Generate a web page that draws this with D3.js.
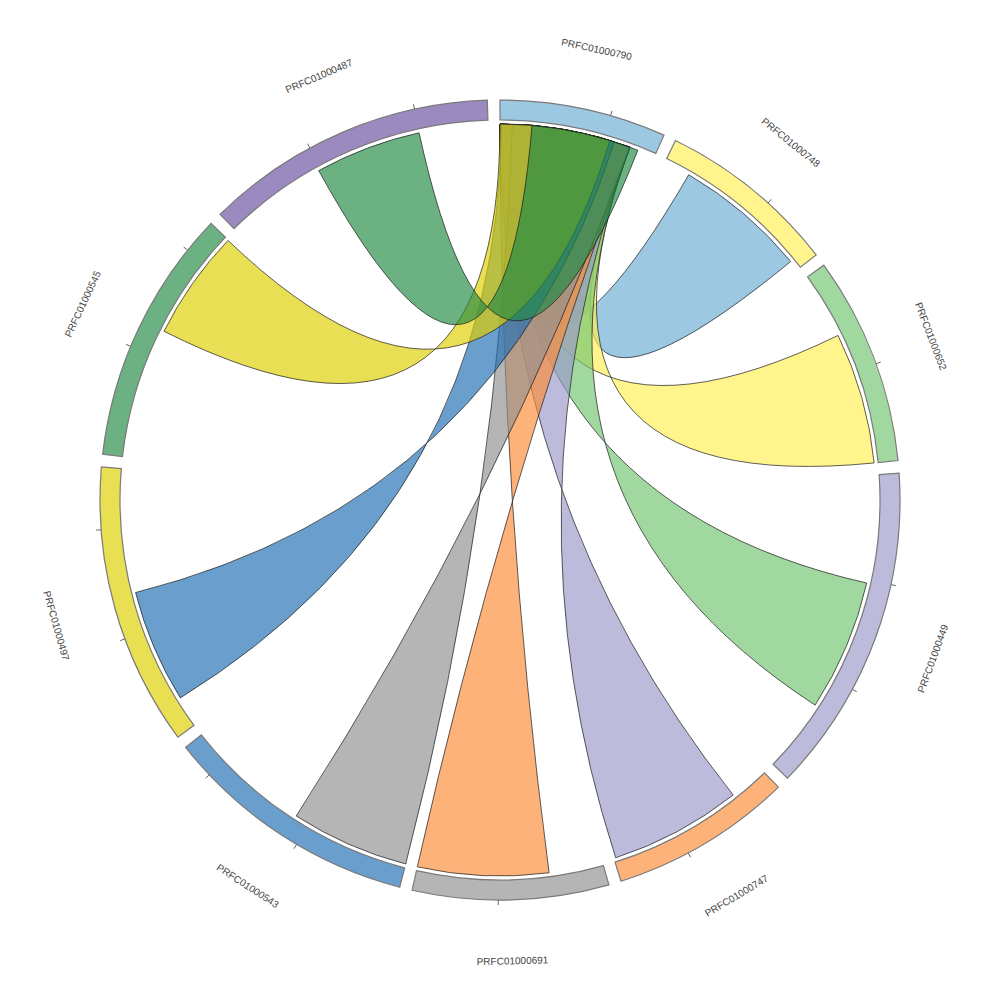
<!DOCTYPE html>
<html><head><meta charset="utf-8">
<script src="https://cdn.jsdelivr.net/npm/d3@7"></script>
<style>body{margin:0;background:#fff}svg{display:block}</style>
</head><body>
<svg id="chart" width="1000" height="1000"></svg>
<script>
// ---- data ----
const groupNames = ["PRFC01000790","PRFC01000748","PRFC01000652","PRFC01000449","PRFC01000747","PRFC01000691","PRFC01000543","PRFC01000497","PRFC01000545","PRFC01000487"];
const groupValues = [1508,1633,1888,2985,1651,1776,2324,2561,2318,2655];
const groupColors = ["#9dc8e2","#fff58c","#a1d8a0","#bcbbdc","#fdb27a","#b5b5b5","#6a9ecc","#e9df52","#6bb182","#9b8ac0"];
const tickStep = 1000;

const hubName = "PRFC01000790";
const linkGroups = ["PRFC01000748","PRFC01000652","PRFC01000449","PRFC01000747","PRFC01000691","PRFC01000543","PRFC01000497","PRFC01000545","PRFC01000487"];
// position of each link inside its own group (value units)
const linkGroupOffsets = [256,623,1034,361,517,0,287,1253,972];
const linkGroupValues  = [1278,1265,1265,1271,1259,1140,1091,1059,1022];
// position of each link inside the hub group (value units)
const linkHubOffsets = [0,0,0,0,0,118,12,0,305];
const linkHubValues  = [1262,1259,1259,1259,1259,1140,1091,1059,1035];
const linkColors = ["#9dc8e2","#fff58c","#a1d8a0","#bcbbdc","#fdb27a","#b5b5b5","#6a9ecc","#e9df52","#6bb182"];

// ---- layout ----
const cx = 500, cy = 500;
const outerR = 400, innerR = 380, ribbonR = 376, labelR = 461;
const pad = 1.82 * Math.PI / 180;
const ribbonAlpha = 0.67;
const total = d3.sum(groupValues);
const angle = d3.scaleLinear().domain([0, total]).range([0, 2 * Math.PI - pad * groupValues.length]);

let cum = 0;
const groups = groupNames.map((name, i) => {
  const s = angle(cum) + i * pad;
  cum += groupValues[i];
  const e = angle(cum) + i * pad;
  return {name, index: i, startAngle: s, endAngle: e, value: groupValues[i]};
});
const byName = new Map(groups.map(g => [g.name, g]));
const hub = byName.get(hubName);

const links = linkGroups.map((n, i) => {
  const g = byName.get(n);
  return {
    g0: g.startAngle + angle(linkGroupOffsets[i]),
    g1: g.startAngle + angle(linkGroupOffsets[i] + linkGroupValues[i]),
    h0: hub.startAngle + angle(linkHubOffsets[i]),
    h1: hub.startAngle + angle(linkHubOffsets[i] + linkHubValues[i]),
    color: linkColors[i]
  };
});

// ribbon whose edges join g0-h0 and g1-h1
function ribbonPath(d) {
  const p = d3.path(), r = ribbonR, h = Math.PI / 2;
  p.moveTo(r * Math.cos(d.g0 - h), r * Math.sin(d.g0 - h));
  p.arc(0, 0, r, d.g0 - h, d.g1 - h, false);
  p.quadraticCurveTo(0, 0, r * Math.cos(d.h1 - h), r * Math.sin(d.h1 - h));
  p.arc(0, 0, r, d.h1 - h, d.h0 - h, true);
  p.quadraticCurveTo(0, 0, r * Math.cos(d.g0 - h), r * Math.sin(d.g0 - h));
  p.closePath();
  return p.toString();
}
// fill colour that shows as the given colour at ribbonAlpha over white
function baseColor(c) {
  const q = d3.rgb(c), a = ribbonAlpha, f = v => Math.max(0, Math.min(255, (v - (1 - a) * 255) / a));
  return d3.rgb(f(q.r), f(q.g), f(q.b)).formatHex();
}

const svg = d3.select("#chart");
const root = svg.append("g").attr("transform", `translate(${cx},${cy})`);

root.append("g").selectAll("path").data(links).join("path")
  .attr("d", ribbonPath)
  .attr("fill", d => baseColor(d.color))
  .attr("fill-opacity", ribbonAlpha)
  .attr("stroke", "#1a1a1a")
  .attr("stroke-width", 0.7);

const arc = d3.arc().innerRadius(innerR).outerRadius(outerR);
root.append("g").selectAll("path").data(groups).join("path")
  .attr("d", arc)
  .attr("fill", (d, i) => groupColors[i])
  .attr("stroke", "#7a7a7a")
  .attr("stroke-width", 1.2);

// ticks
const ticks = [];
groups.forEach(g => {
  for (let v = tickStep; v < g.value; v += tickStep) ticks.push(g.startAngle + angle(v));
});
root.append("g").selectAll("line").data(ticks).join("line")
  .attr("x1", a => outerR * Math.sin(a)).attr("y1", a => -outerR * Math.cos(a))
  .attr("x2", a => (outerR + 5) * Math.sin(a)).attr("y2", a => -(outerR + 5) * Math.cos(a))
  .attr("stroke", "#666").attr("stroke-width", 1);

// labels
root.append("g").selectAll("text").data(groups).join("text")
  .attr("transform", g => {
    const mid = (g.startAngle + g.endAngle) / 2;
    const deg = mid * 180 / Math.PI;
    const rot = (deg > 90 && deg < 270) ? deg - 180 : (deg >= 270 ? deg - 360 : deg);
    return `translate(${labelR * Math.sin(mid)},${-labelR * Math.cos(mid)}) rotate(${rot})`;
  })
  .attr("text-anchor", "middle")
  .attr("dominant-baseline", "central")
  .attr("font-family", "Liberation Sans, Arial, sans-serif")
  .attr("font-size", 10)
  .attr("fill", "#444")
  .text(g => g.name);
</script>
</body></html>
